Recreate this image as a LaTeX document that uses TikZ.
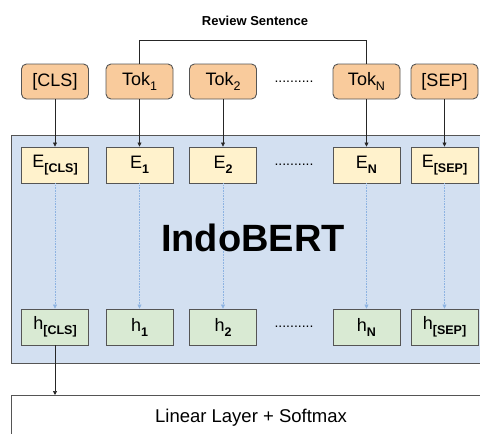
\documentclass[tikz,border=0pt]{standalone}
\usepackage{fontspec}
\setmainfont{Liberation Sans}
\usetikzlibrary{arrows.meta}
\definecolor{tokfill}{HTML}{F9CB9C}
\definecolor{efill}{HTML}{FFF2CC}
\definecolor{hfill}{HTML}{D9EAD3}
\definecolor{bluefill}{HTML}{D3E0F1}
\definecolor{edge}{HTML}{555555}
\definecolor{dotblue}{HTML}{8DB3E2}
\tikzset{
  tokbox/.style={draw=edge, line width=0.9pt, fill=tokfill, rounded corners=5pt, minimum width=67pt, minimum height=35pt, inner sep=0pt, font=\fontsize{18}{18}\selectfont},
  ebox/.style={draw=edge, line width=0.9pt, fill=efill, minimum width=67pt, minimum height=36pt, inner sep=0pt, font=\fontsize{18}{18}\selectfont},
  hbox/.style={draw=edge, line width=0.9pt, fill=hfill, minimum width=67pt, minimum height=36pt, inner sep=0pt, font=\fontsize{18}{18}\selectfont},
  conn/.style={draw=black!85, line width=0.7pt},
  arr/.style={conn, -{Triangle[length=4pt,width=4pt]}},
  dotarr/.style={draw=dotblue, line width=0.6pt, densely dotted, -{Triangle[length=4pt,width=4pt]}},
  dotsym/.style={font=\fontsize{14}{14}\selectfont, inner sep=0pt},
}
\newcommand{\bsub}[1]{\raisebox{-5pt}{\fontsize{12.5}{12.5}\selectfont\bfseries #1}}
\newcommand{\rsub}[1]{\raisebox{-5pt}{\fontsize{12.5}{12.5}\selectfont #1}}
\begin{document}
\begin{tikzpicture}[x=1pt,y=-1pt]
\useasboundingbox (0,0) rectangle (480,434);
\fill[white] (0,0) rectangle (480,434);
% big boxes
\node[draw=edge, line width=0.9pt, fill=bluefill, minimum width=500pt, minimum height=228pt, anchor=north west, inner sep=0pt] (bert) at (11,135) {};
\node[draw=edge, line width=0.9pt, fill=white, minimum width=500pt, minimum height=60pt, anchor=north west, inner sep=0pt] (lin) at (11,395) {};
\node[font=\fontsize{18.5}{18.5}\selectfont] (linlabel) at (251,418) {Linear Layer + Softmax};
\node[font=\fontsize{13}{13}\selectfont\bfseries] (review) at (255,21) {Review Sentence};
% tokens
\node[tokbox] (t0) at (55,81.5) {[CLS]};
\node[tokbox] (t1) at (139.5,81.5) {Tok\rsub{1}};
\node[tokbox] (t2) at (223,81.5) {Tok\rsub{2}};
\node[tokbox] (tn) at (366.5,81.5) {Tok\rsub{N}};
\node[tokbox] (ts) at (444.5,81.5) {[SEP]};
\node[dotsym] (d1) at (294,82) {..........};
% embeddings
\node[ebox] (e0) at (55,165) {E\bsub{[CLS]}};
\node[ebox] (e1) at (139.5,165) {E\bsub{1}};
\node[ebox] (e2) at (223,165) {E\bsub{2}};
\node[ebox] (en) at (366.5,165) {E\bsub{N}};
\node[ebox] (es) at (444.5,165) {E\bsub{[SEP]}};
\node[dotsym] (d2) at (294,165) {..........};
% hidden
\node[hbox] (h0) at (55,327) {h\bsub{[CLS]}};
\node[hbox] (h1) at (139.5,327) {h\bsub{1}};
\node[hbox] (h2) at (223,327) {h\bsub{2}};
\node[hbox] (hn) at (366.5,327) {h\bsub{N}};
\node[hbox] (hs) at (444.5,327) {h\bsub{[SEP]}};
\node[dotsym] (d3) at (294,327) {..........};
% bracket
\coordinate (b1) at (139.5,40);
\coordinate (b2) at (366.5,40);
\draw[conn] (t1.north) -- (b1) -- (b2) -- (tn.north);
% token -> embedding
\foreach \a/\b in {t0/e0,t1/e1,t2/e2,tn/en,ts/es}
  \draw[arr] (\a.south) -- (\b.north);
% embedding -> hidden
\foreach \a/\b in {e0/h0,e1/h1,e2/h2,en/hn,es/hs}
  \draw[dotarr] (\a.south) -- (\b.north);
% CLS -> linear
\draw[arr] (h0.south) -- (h0.south |- lin.north);
\node[font=\fontsize{38}{38}\selectfont\bfseries] (bertlabel) at (253,238) {IndoBERT};
\end{tikzpicture}
\end{document}
